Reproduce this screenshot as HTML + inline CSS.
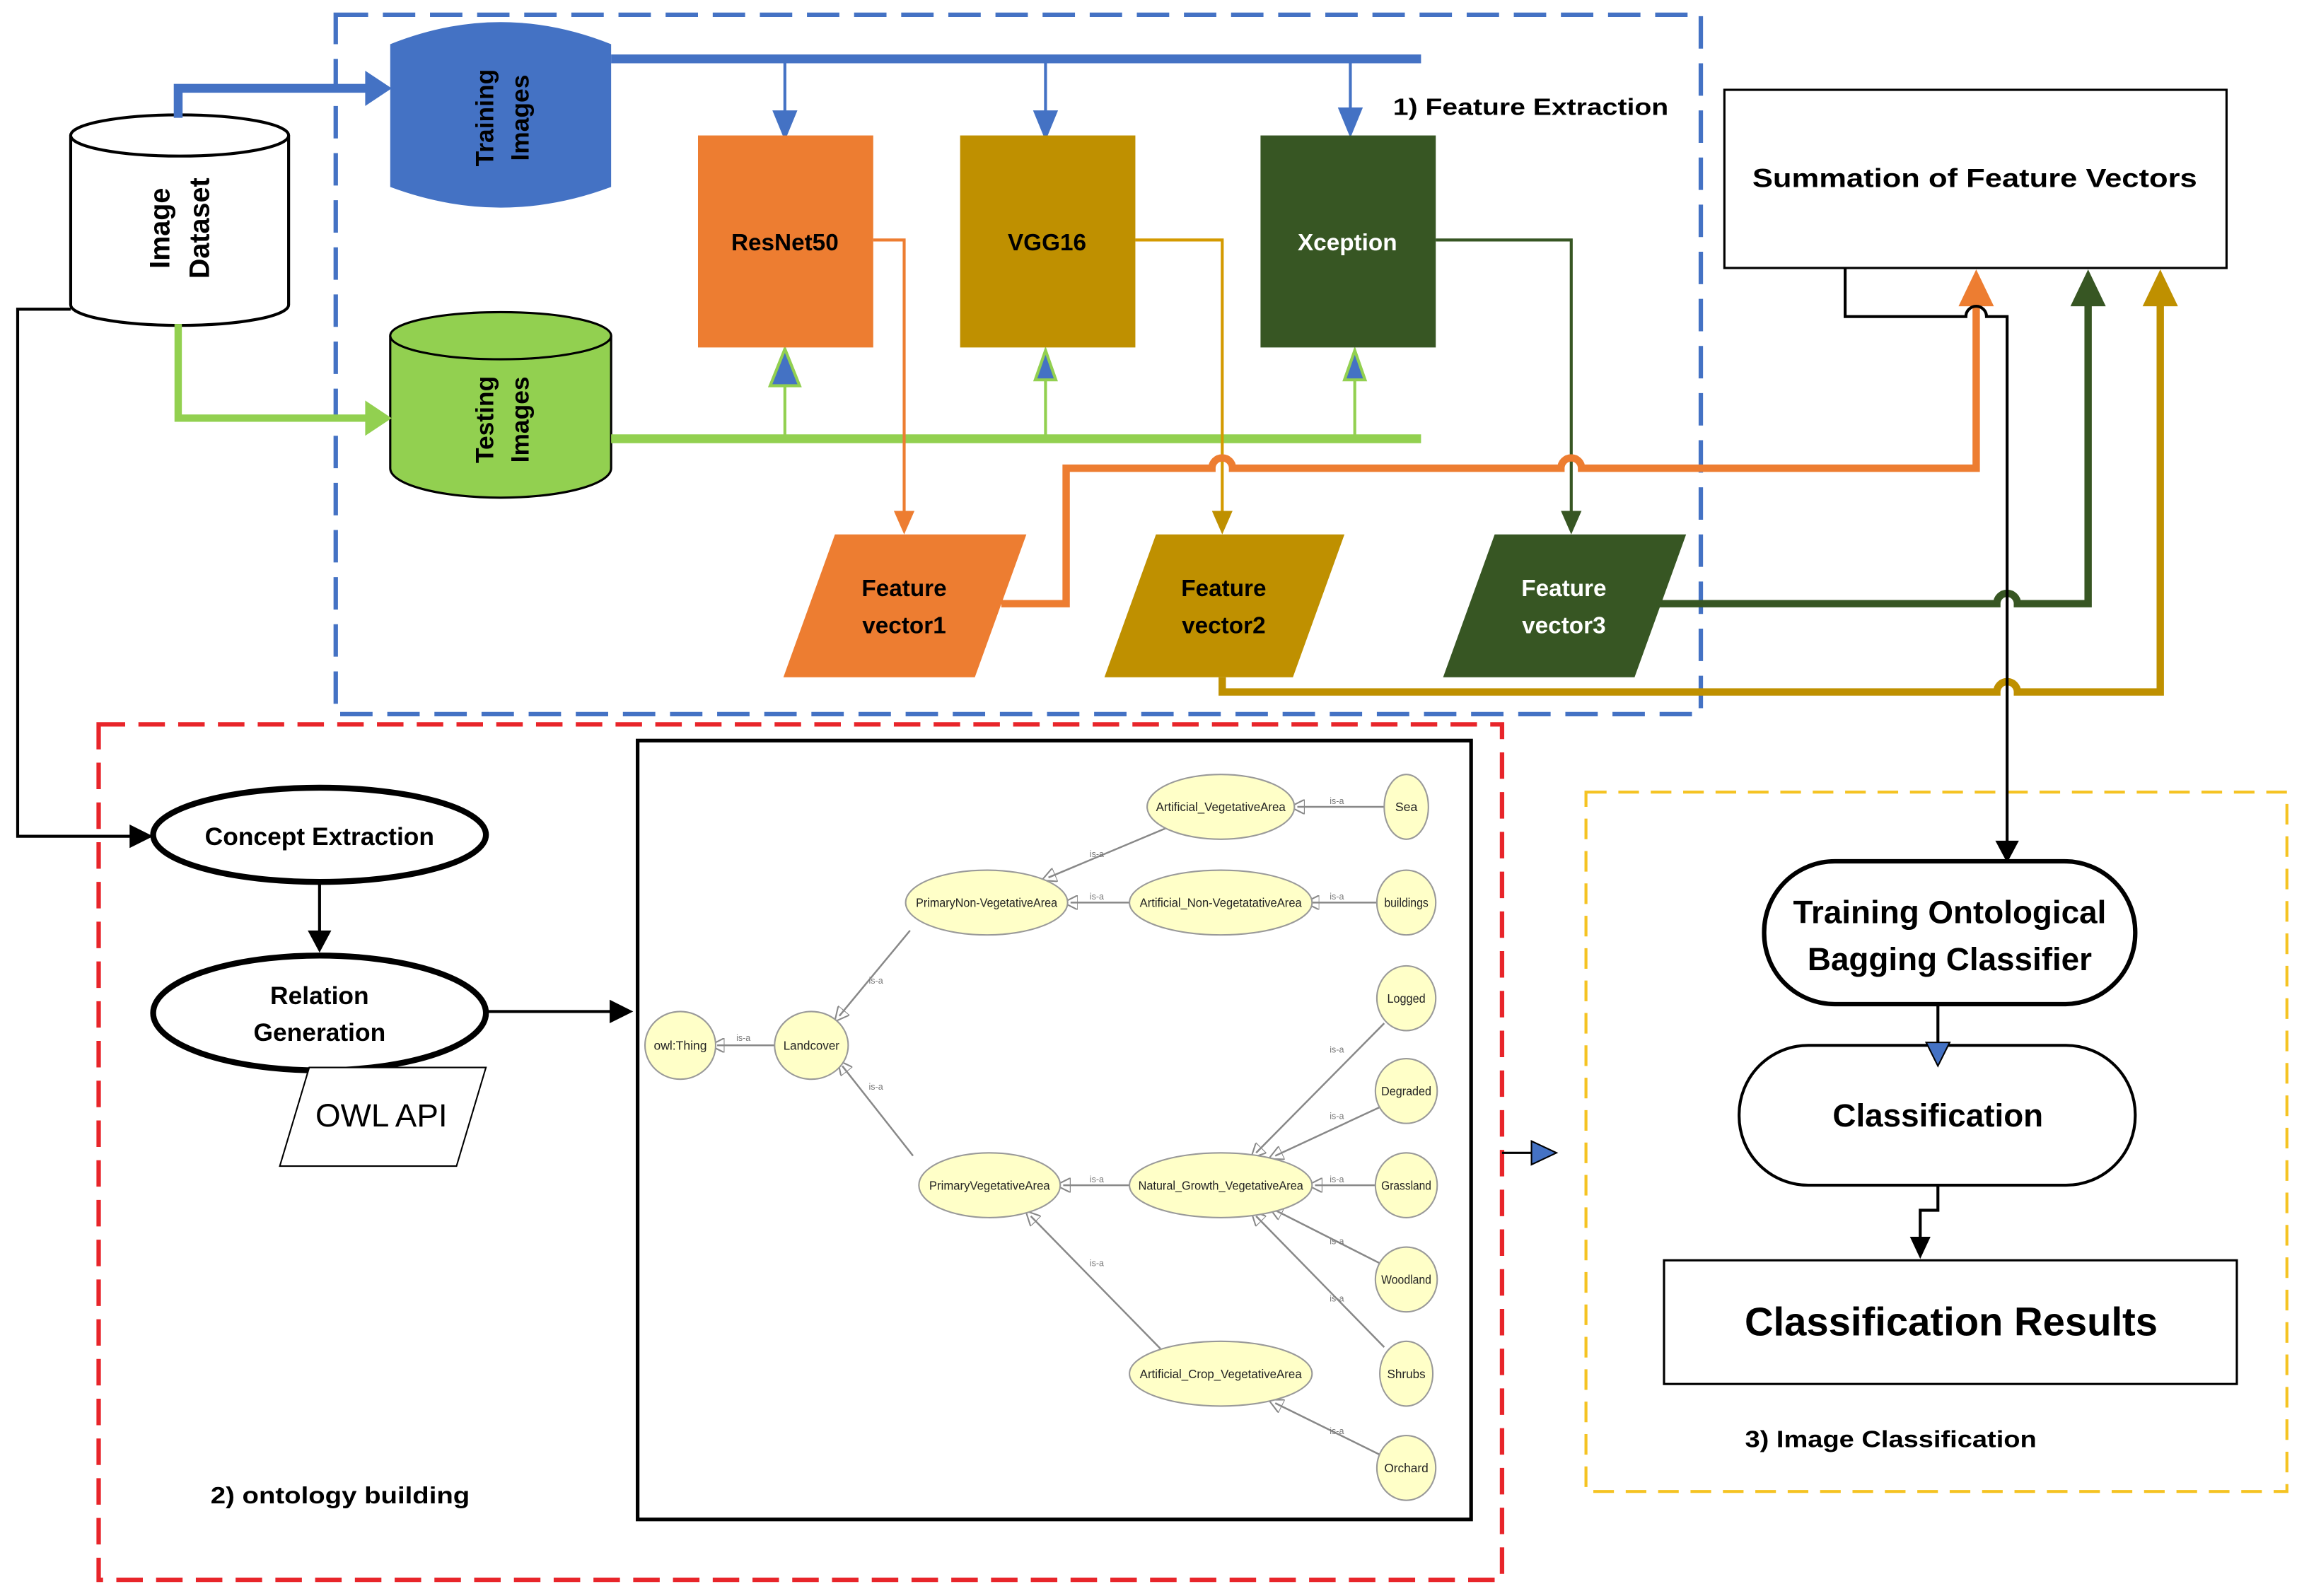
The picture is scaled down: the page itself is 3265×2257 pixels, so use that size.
<!DOCTYPE html>
<html><head><meta charset="utf-8"><style>
html,body{margin:0;padding:0;background:#fff}
svg{display:block}
text{font-family:"Liberation Sans",sans-serif}
.b{font-weight:bold}
.o{font-size:8.5px;fill:#222}
.isa{font-size:6px;fill:#777}
</style></head><body>
<svg width="3265" height="2257" viewBox="0 0 1568 1084" preserveAspectRatio="none" xmlns="http://www.w3.org/2000/svg">
<defs>
<marker id="ao" markerWidth="10" markerHeight="10" refX="5" refY="5" orient="auto" markerUnits="userSpaceOnUse"><path d="M0,0 L10,5 L0,10Z" fill="none" stroke="#888" stroke-width="1"/></marker>
</defs>
<rect x="228" y="10" width="927" height="475" fill="none" stroke="#4472C4" stroke-width="3" stroke-dasharray="22,10"/>
<rect x="67" y="492" width="953" height="581" fill="none" stroke="#E8252A" stroke-width="3" stroke-dasharray="18,9"/>
<rect x="1077" y="538" width="476" height="475" fill="none" stroke="#F5C322" stroke-width="2" stroke-dasharray="14,8"/>
<text x="946" y="78" class="b" font-size="16" textLength="187" lengthAdjust="spacingAndGlyphs">1) Feature Extraction</text>
<text x="143" y="1021" class="b" font-size="16" textLength="176" lengthAdjust="spacingAndGlyphs">2) ontology building</text>
<text x="1185" y="983" class="b" font-size="16" textLength="198" lengthAdjust="spacingAndGlyphs">3) Image Classification</text>

<path d="M48,92 L48,207 A74,14 0 0 0 196,207 L196,92" fill="#fff" stroke="#000" stroke-width="2"/>
<path d="M48,92 A74,14 0 0 1 196,92 A74,14 0 0 1 48,92" fill="#fff" stroke="#000" stroke-width="2"/>
<text transform="translate(115,155) rotate(-90)" text-anchor="middle" class="b" font-size="19">Image</text>
<text transform="translate(142,155) rotate(-90)" text-anchor="middle" class="b" font-size="19">Dataset</text>

<path d="M265,30 Q340,0 415,30 L415,127 Q340,155 265,127 Z" fill="#4472C4"/>
<text transform="translate(335,80) rotate(-90)" text-anchor="middle" class="b" font-size="17">Training</text>
<text transform="translate(359,80) rotate(-90)" text-anchor="middle" class="b" font-size="17">Images</text>
<path d="M265,228 L265,318 A75,20 0 0 0 415,318 L415,228" fill="#92D050" stroke="#000" stroke-width="1.5"/>
<path d="M265,228 A75,16 0 0 1 415,228 A75,16 0 0 1 265,228" fill="#92D050" stroke="#000" stroke-width="1.5"/>
<text transform="translate(335,285) rotate(-90)" text-anchor="middle" class="b" font-size="17">Testing</text>
<text transform="translate(359,285) rotate(-90)" text-anchor="middle" class="b" font-size="17">Images</text>

<path d="M121,80 L121,60 L250,60" fill="none" stroke="#4472C4" stroke-width="6"/>
<path d="M248,48 L266,60 L248,72Z" fill="#4472C4"/>
<path d="M121,220 L121,284 L250,284" fill="none" stroke="#92D050" stroke-width="5"/>
<path d="M248,272 L266,284 L248,296Z" fill="#92D050"/>

<line x1="415" y1="40" x2="965" y2="40" stroke="#4472C4" stroke-width="6"/>
<g stroke="#4472C4" stroke-width="2" fill="#4472C4">
<line x1="533" y1="40" x2="533" y2="80"/><path d="M526,76 L533,93 L540,76Z"/>
<line x1="710" y1="40" x2="710" y2="80"/><path d="M703,76 L710,93 L717,76Z"/>
<line x1="917" y1="40" x2="917" y2="78"/><path d="M910,74 L917,91 L924,74Z"/>
</g>
<line x1="415" y1="298" x2="965" y2="298" stroke="#92D050" stroke-width="6"/>
<g stroke="#92D050" stroke-width="2">
<line x1="533" y1="298" x2="533" y2="258"/><path d="M523,262 L533,237 L543,262Z" fill="#4472C4"/>
<line x1="710" y1="298" x2="710" y2="255"/><path d="M703,258 L710,238 L717,258Z" fill="#4472C4"/>
<line x1="920" y1="298" x2="920" y2="255"/><path d="M913,258 L920,238 L927,258Z" fill="#4472C4"/>
</g>

<rect x="474" y="92" width="119" height="144" fill="#ED7D31"/>
<rect x="652" y="92" width="119" height="144" fill="#BF9000"/>
<rect x="856" y="92" width="119" height="144" fill="#375623"/>
<text x="533" y="170" text-anchor="middle" class="b" font-size="16">ResNet50</text>
<text x="711" y="170" text-anchor="middle" class="b" font-size="16">VGG16</text>
<text x="915" y="170" text-anchor="middle" class="b" font-size="16" fill="#fff">Xception</text>

<path d="M593,163 L614,163 L614,350" fill="none" stroke="#ED7D31" stroke-width="2"/>
<path d="M607,347 L614,363 L621,347Z" fill="#ED7D31"/>
<path d="M771,163 L830,163 L830,350" fill="none" stroke="#D49A00" stroke-width="2"/>
<path d="M823,347 L830,363 L837,347Z" fill="#BF9000"/>
<path d="M975,163 L1067,163 L1067,350" fill="none" stroke="#375623" stroke-width="2"/>
<path d="M1060,347 L1067,363 L1074,347Z" fill="#375623"/>

<polygon points="567,363 697,363 662,460 532,460" fill="#ED7D31"/>
<polygon points="785,363 913,363 878,460 750,460" fill="#BF9000"/>
<polygon points="1015,363 1145,363 1110,460 980,460" fill="#375623"/>
<text x="614" y="405" text-anchor="middle" class="b" font-size="16">Feature</text>
<text x="614" y="430" text-anchor="middle" class="b" font-size="16">vector1</text>
<text x="831" y="405" text-anchor="middle" class="b" font-size="16">Feature</text>
<text x="831" y="430" text-anchor="middle" class="b" font-size="16">vector2</text>
<text x="1062" y="405" text-anchor="middle" class="b" font-size="16" fill="#fff">Feature</text>
<text x="1062" y="430" text-anchor="middle" class="b" font-size="16" fill="#fff">vector3</text>

<path d="M680,410 L724,410 L724,318 L823,318 A7,7 0 0 1 837,318 L1060,318 A7,7 0 0 1 1074,318 L1342,318 L1342,205" fill="none" stroke="#ED7D31" stroke-width="5"/>
<path d="M1330,208 L1342,183 L1354,208Z" fill="#ED7D31"/>
<path d="M1125,410 L1356,410 A7,7 0 0 1 1370,410 L1418,410 L1418,205" fill="none" stroke="#375623" stroke-width="5"/>
<path d="M1406,208 L1418,183 L1430,208Z" fill="#375623"/>
<path d="M830,460 L830,470 L1356,470 A7,7 0 0 1 1370,470 L1467,470 L1467,205" fill="none" stroke="#BF9000" stroke-width="5"/>
<path d="M1455,208 L1467,183 L1479,208Z" fill="#BF9000"/>

<rect x="1171" y="61" width="341" height="121" fill="#fff" stroke="#000" stroke-width="1.5"/>
<text x="1341" y="127" text-anchor="middle" class="b" font-size="18" textLength="302" lengthAdjust="spacingAndGlyphs">Summation of Feature Vectors</text>
<path d="M1253,182 L1253,215 L1335,215 A7,7 0 0 1 1349,215 L1363,215 L1363,575" fill="none" stroke="#000" stroke-width="2"/>
<path d="M1355,571 L1363,586 L1371,571Z" fill="#000"/>

<rect x="1198" y="585" width="252" height="97" rx="48" fill="#fff" stroke="#000" stroke-width="3"/>
<text x="1324" y="627" text-anchor="middle" class="b" font-size="22">Training Ontological</text>
<text x="1324" y="659" text-anchor="middle" class="b" font-size="22">Bagging Classifier</text>
<rect x="1181" y="710" width="269" height="95" rx="47" fill="#fff" stroke="#000" stroke-width="2"/>
<line x1="1316" y1="682" x2="1316" y2="708" stroke="#000" stroke-width="2"/>
<path d="M1308,708 L1316,724 L1324,708Z" fill="#4472C4" stroke="#000" stroke-width="1"/>
<text x="1316" y="765" text-anchor="middle" class="b" font-size="22">Classification</text>
<path d="M1316,805 L1316,822 L1304,822 L1304,845" fill="none" stroke="#000" stroke-width="2"/>
<path d="M1297,840 L1304,855 L1311,840Z" fill="#000"/>
<rect x="1130" y="856" width="389" height="84" fill="#fff" stroke="#000" stroke-width="1.5"/>
<text x="1325" y="907" text-anchor="middle" class="b" font-size="27">Classification Results</text>

<path d="M48,210 L12,210 L12,568 L90,568" fill="none" stroke="#000" stroke-width="2"/>
<path d="M88,560 L104,568 L88,576Z" fill="#000"/>
<ellipse cx="217" cy="567" rx="113" ry="32" fill="#fff" stroke="#000" stroke-width="4"/>
<text x="217" y="574" text-anchor="middle" class="b" font-size="17">Concept Extraction</text>
<line x1="217" y1="600" x2="217" y2="636" stroke="#000" stroke-width="2"/>
<path d="M209,632 L217,647 L225,632Z" fill="#000"/>
<ellipse cx="217" cy="688" rx="113" ry="39" fill="#fff" stroke="#000" stroke-width="4"/>
<text x="217" y="682" text-anchor="middle" class="b" font-size="17">Relation</text>
<text x="217" y="707" text-anchor="middle" class="b" font-size="17">Generation</text>
<polygon points="210,725 330,725 310,792 190,792" fill="#fff" stroke="#000" stroke-width="1"/>
<text x="259" y="765" text-anchor="middle" font-size="22">OWL API</text>
<line x1="330" y1="687" x2="416" y2="687" stroke="#000" stroke-width="2"/>
<path d="M414,679 L430,687 L414,695Z" fill="#000"/>
<line x1="1020" y1="783" x2="1040" y2="783" stroke="#000" stroke-width="1.5"/>
<path d="M1040,775 L1057,783 L1040,791Z" fill="#4472C4" stroke="#000" stroke-width="1"/>

<rect x="433" y="503" width="566" height="529" fill="#fff" stroke="#000" stroke-width="2.5"/>
<g stroke="#888" stroke-width="1.2" fill="none">
<line x1="526" y1="710" x2="487" y2="710" marker-end="url(#ao)"/>
<line x1="618" y1="632" x2="570" y2="690" marker-end="url(#ao)"/>
<line x1="620" y1="785" x2="572" y2="724" marker-end="url(#ao)"/>
<line x1="793" y1="562" x2="712" y2="596" marker-end="url(#ao)"/>
<line x1="769" y1="613" x2="727" y2="613" marker-end="url(#ao)"/>
<line x1="940" y1="548" x2="881" y2="548" marker-end="url(#ao)"/>
<line x1="935" y1="613" x2="891" y2="613" marker-end="url(#ao)"/>
<line x1="767" y1="805" x2="722" y2="805" marker-end="url(#ao)"/>
<line x1="788" y1="916" x2="700" y2="826" marker-end="url(#ao)"/>
<line x1="940" y1="695" x2="853" y2="783" marker-end="url(#ao)"/>
<line x1="937" y1="752" x2="866" y2="785" marker-end="url(#ao)"/>
<line x1="935" y1="805" x2="893" y2="805" marker-end="url(#ao)"/>
<line x1="937" y1="858" x2="866" y2="822" marker-end="url(#ao)"/>
<line x1="940" y1="915" x2="853" y2="826" marker-end="url(#ao)"/>
<line x1="937" y1="988" x2="866" y2="953" marker-end="url(#ao)"/>
</g>
<g>
<text x="500" y="707" class="isa">is-a</text><text x="590" y="668" class="isa">is-a</text><text x="590" y="740" class="isa">is-a</text>
<text x="740" y="582" class="isa">is-a</text><text x="740" y="611" class="isa">is-a</text><text x="903" y="546" class="isa">is-a</text>
<text x="903" y="611" class="isa">is-a</text><text x="740" y="803" class="isa">is-a</text><text x="740" y="860" class="isa">is-a</text>
<text x="903" y="715" class="isa">is-a</text><text x="903" y="760" class="isa">is-a</text><text x="903" y="803" class="isa">is-a</text>
<text x="903" y="845" class="isa">is-a</text><text x="903" y="884" class="isa">is-a</text><text x="903" y="974" class="isa">is-a</text>
</g>
<g fill="#FFFFC8" stroke="#999" stroke-width="1">
<ellipse cx="462" cy="710" rx="24" ry="23"/>
<ellipse cx="551" cy="710" rx="25" ry="23"/>
<ellipse cx="670" cy="613" rx="55" ry="22"/>
<ellipse cx="829" cy="548" rx="50" ry="22"/>
<ellipse cx="955" cy="548" rx="15" ry="22"/>
<ellipse cx="829" cy="613" rx="62" ry="22"/>
<ellipse cx="955" cy="613" rx="20" ry="22"/>
<ellipse cx="955" cy="678" rx="20" ry="22"/>
<ellipse cx="955" cy="741" rx="21" ry="22"/>
<ellipse cx="955" cy="805" rx="21" ry="22"/>
<ellipse cx="955" cy="869" rx="21" ry="22"/>
<ellipse cx="955" cy="933" rx="18" ry="22"/>
<ellipse cx="955" cy="997" rx="20" ry="22"/>
<ellipse cx="672" cy="805" rx="48" ry="22"/>
<ellipse cx="829" cy="805" rx="62" ry="22"/>
<ellipse cx="829" cy="933" rx="62" ry="22"/>
</g>
<g text-anchor="middle">
<text x="462" y="713" class="o" textLength="36" lengthAdjust="spacingAndGlyphs">owl:Thing</text>
<text x="551" y="713" class="o" textLength="38" lengthAdjust="spacingAndGlyphs">Landcover</text>
<text x="670" y="616" class="o" textLength="96" lengthAdjust="spacingAndGlyphs">PrimaryNon-VegetativeArea</text>
<text x="829" y="551" class="o" textLength="88" lengthAdjust="spacingAndGlyphs">Artificial_VegetativeArea</text>
<text x="955" y="551" class="o">Sea</text>
<text x="829" y="616" class="o" textLength="110" lengthAdjust="spacingAndGlyphs">Artificial_Non-VegetatativeArea</text>
<text x="955" y="616" class="o" textLength="30" lengthAdjust="spacingAndGlyphs">buildings</text>
<text x="955" y="681" class="o" textLength="26" lengthAdjust="spacingAndGlyphs">Logged</text>
<text x="955" y="744" class="o" textLength="34" lengthAdjust="spacingAndGlyphs">Degraded</text>
<text x="955" y="808" class="o" textLength="34" lengthAdjust="spacingAndGlyphs">Grassland</text>
<text x="955" y="872" class="o" textLength="34" lengthAdjust="spacingAndGlyphs">Woodland</text>
<text x="955" y="936" class="o" textLength="26" lengthAdjust="spacingAndGlyphs">Shrubs</text>
<text x="955" y="1000" class="o" textLength="30" lengthAdjust="spacingAndGlyphs">Orchard</text>
<text x="672" y="808" class="o" textLength="82" lengthAdjust="spacingAndGlyphs">PrimaryVegetativeArea</text>
<text x="829" y="808" class="o" textLength="112" lengthAdjust="spacingAndGlyphs">Natural_Growth_VegetativeArea</text>
<text x="829" y="936" class="o" textLength="110" lengthAdjust="spacingAndGlyphs">Artificial_Crop_VegetativeArea</text>
</g>
</svg>
</body></html>
